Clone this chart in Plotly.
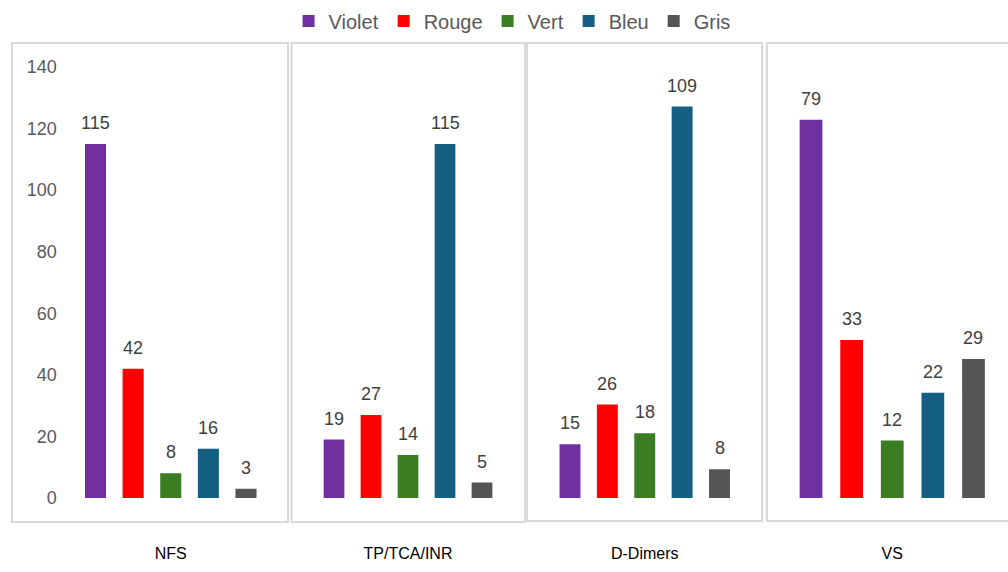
import plotly.graph_objects as go

categories = ["NFS", "TP/TCA/INR", "D-Dimers", "VS"]
series = ["Violet", "Rouge", "Vert", "Bleu", "Gris"]
violet = [115, 19, 15, 79]
rouge = [42, 27, 26, 33]
vert = [8, 14, 18, 12]
bleu = [16, 115, 109, 22]
gris = [3, 5, 8, 29]
values = [violet, rouge, vert, bleu, gris]
colors = ["#7030A0", "#FF0000", "#3B7D23", "#156082", "#555555"]
y_max = [140, 140, 120, 90]
y_ticks = [0, 20, 40, 60, 80, 100, 120, 140]

W, H = 1008, 572
x_domains_px = [(76.7, 264.8), (315.5, 500.5), (551.3, 738.2), (790.7, 993.8)]
y_dom = [1 - 498 / H, 1 - 67 / H]

fig = go.Figure()
for p, cat in enumerate(categories):
    ax = "" if p == 0 else str(p + 1)
    for s, name in enumerate(series):
        fig.add_trace(go.Bar(
            x=[name], y=[values[s][p]], name=name,
            marker=dict(color=colors[s], line=dict(width=0)),
            legendgroup=name, showlegend=(p == 0),
            xaxis="x" + ax, yaxis="y" + ax,
            hoverinfo="skip",
        ))
        fig.add_annotation(
            x=name, y=values[s][p], xref="x" + ax, yref="y" + ax,
            text=str(values[s][p]), showarrow=False, yshift=21, yanchor="middle",
            font=dict(family="Liberation Sans, Arial", size=18, color="#404040"),
        )

layout = dict(
    width=W, height=H,
    margin=dict(l=0, r=0, t=0, b=0, autoexpand=False),
    paper_bgcolor="white", plot_bgcolor="white",
    barmode="overlay", bargap=0.44,
    showlegend=True,
    legend=dict(orientation="h", x=0.508, xanchor="center", y=1 - 21 / H, yanchor="middle",
                font=dict(family="Liberation Sans, Arial", size=20, color="#595959"),
                itemwidth=30, traceorder="normal"),
)
for p, cat in enumerate(categories):
    ax = "" if p == 0 else str(p + 1)
    x0, x1 = x_domains_px[p]
    layout["xaxis" + ax] = dict(
        domain=[x0 / W, x1 / W], anchor="y" + ax, type="category",
        categoryorder="array", categoryarray=series,
        showticklabels=False, showline=False, showgrid=False, zeroline=False, ticks="",
        title=dict(text=cat, standoff=49, font=dict(family="Liberation Sans, Arial", size=16, color="#000000")),
        fixedrange=True,
    )
    layout["yaxis" + ax] = dict(
        domain=y_dom, anchor="x" + ax, range=[0, y_max[p]],
        showticklabels=(p == 0), tickvals=y_ticks,
        tickfont=dict(family="Liberation Sans, Arial", size=18, color="#595959"),
        ticklabelstandoff=19,
        showline=False, showgrid=False, zeroline=False, ticks="",
        fixedrange=True,
    )
fig.update_layout(**layout)

borders = [(12, 288, 43, 522), (291.5, 525, 43, 522), (527, 762, 43, 521), (767, 1012, 43, 521)]
for (bx0, bx1, by0, by1) in borders:
    fig.add_shape(type="rect", xref="paper", yref="paper",
                  x0=bx0 / W, x1=bx1 / W, y0=1 - by1 / H, y1=1 - by0 / H,
                  line=dict(color="#D9D9D9", width=2), fillcolor="rgba(0,0,0,0)", layer="below")

fig.write_html("out.html")
